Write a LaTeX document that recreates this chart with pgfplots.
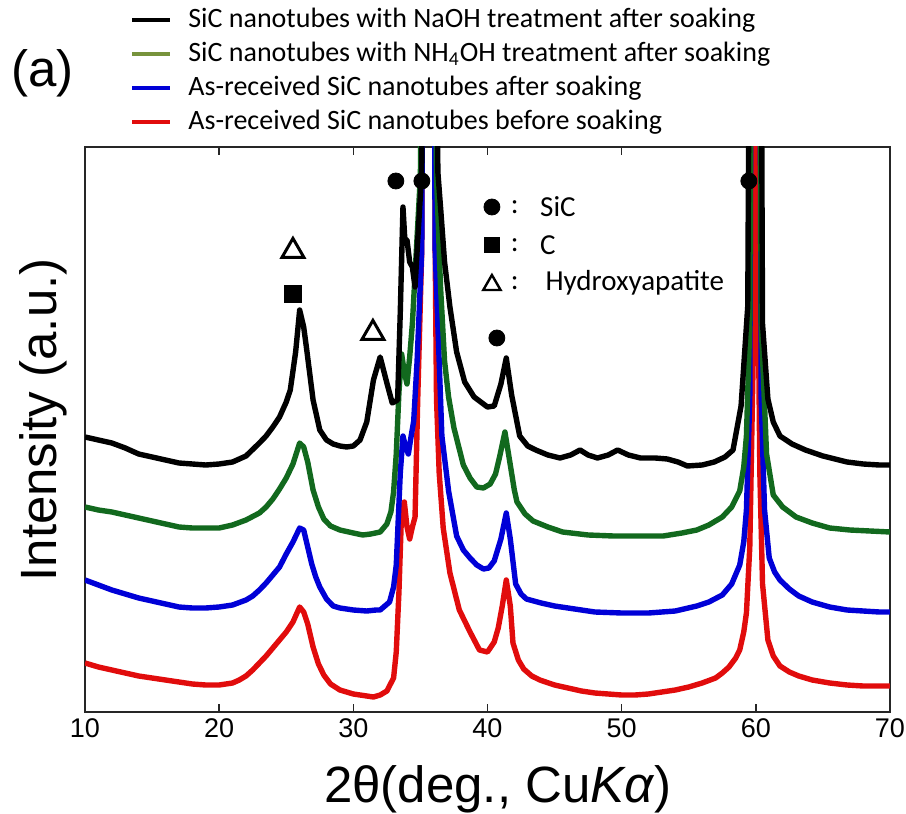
\documentclass[border=0pt]{standalone}
\usepackage{fontspec}
\setmainfont{Liberation Sans}
\newfontfamily\carlito{Carlito}
\usepackage{pgfplots}
\usepackage{pgfplotstable}
\pgfplotsset{compat=1.18}
\definecolor{cred}{RGB}{225,12,12}
\definecolor{cblue}{RGB}{0,0,215}
\definecolor{cgreen}{RGB}{18,105,30}
\definecolor{colive}{RGB}{119,147,60}

\pgfplotstableread{
x y
10.0 49
11.0 45
12.0 42
13.0 39
14.0 36
15.0 34
16.0 32
17.0 30
18.0 28
19.0 27
20.0 27
21.0 29
21.5 32
22.0 36
22.5 42
23.0 49
23.5 56
24.0 64
24.5 72
25.0 80
25.5 90
26.0 105
26.3 100
26.6 88
27.0 65
27.4 48
27.8 37
28.3 28
29.0 22
29.5 20
30.0 18
30.5 17
31.0 16
31.5 15
32.0 17
32.5 21
33.0 34
33.2 60
33.4 120
33.6 202
33.8 210
34.0 185
34.2 173
34.4 185
34.6 195
34.8 313
35.1 462
35.6 2000
36.1 462
36.2 313
36.4 239
36.7 184
37.2 139
37.9 102
38.7 80
39.4 62
40.0 60
40.5 70
40.8 84
41.1 106
41.4 132
41.7 106
41.9 69
42.3 52
42.7 43
43.3 36
43.9 32
45.0 27
46.0 24
47.0 21
48.0 19
49.0 18
50.0 17
51.0 17
52.0 18
53.0 20
54.0 22
55.0 25
56.0 29
57.0 34
57.5 39
58.0 45
58.5 54
58.8 62
59.1 80
59.3 99
59.55 165
59.8 351
60.0 2000
60.2 380
60.3 239
60.5 128
60.9 72
61.3 56
61.8 46
62.5 40
63.2 36
64.2 32
65.5 29
66.8 27
68.0 26
69.2 26
70.0 26
}\redtab

\pgfplotstableread{
x y
10.0 132
11.0 127
12.0 122
13.0 118
14.0 114
15.0 111
16.0 108
17.0 105
18.0 104
19.0 104
20.0 105
21.0 107
22.0 112
22.5 116
23.0 122
23.5 129
24.0 137
24.5 145
25.0 158
25.5 170
26.0 184
26.3 182
26.6 165
26.9 148
27.2 135
27.5 125
28.0 113
28.5 106
29.0 104
30.0 102
31.0 101
31.7 102
32.0 102
32.7 110
33.0 125
33.2 147
33.5 239
33.7 276
33.9 265
34.1 258
34.3 275
34.5 291
34.75 350
35.1 462
35.6 2000
36.1 462
36.35 369
36.6 276
37.1 221
37.7 176
38.2 162
38.7 154
39.2 147
39.7 143
40.1 144
40.5 151
41.0 173
41.4 199
41.7 173
42.1 128
42.5 118
42.9 113
44.0 109
45.0 106
46.5 103
48.0 100
50.0 99
52.0 99
54.0 101
55.6 106
56.5 110
57.5 117
58.2 128
58.8 147
59.1 170
59.3 202
59.55 313
60.0 2000
60.4 313
60.65 202
61.0 154
61.4 140
61.8 132
62.5 123
63.2 116
64.2 110
65.5 105
66.8 102
68.0 101
69.2 100
70.0 100
}\bluetab

\pgfplotstableread{
x y
10.0 205
11.0 202
12.0 200
13.0 197
14.0 194
15.0 191
16.0 188
17.0 185
18.0 184
19.0 184
20.0 184
21.0 187
22.0 192
23.0 199
23.5 205
24.0 213
24.5 223
25.0 234
25.5 248
26.0 269
26.3 265
26.6 250
27.0 222
27.4 205
27.8 193
28.3 186
29.0 182
30.0 179
30.7 177
31.3 178
32.0 180
32.5 188
32.8 200
33.0 220
33.2 258
33.4 320
33.6 358
33.8 340
34.0 328
34.2 355
34.4 388
34.7 462
35.0 536
35.6 2000
36.2 536
36.5 425
36.8 351
37.1 315
37.5 284
38.2 247
38.7 234
39.2 225
39.7 224
40.2 228
40.6 238
40.9 255
41.3 280
41.7 247
42.0 222
42.2 210
42.8 198
43.4 191
44.5 185
45.6 180
47.5 177
49.4 176
51.0 176
53.1 176
54.5 179
55.6 182
56.5 187
57.5 195
58.2 205
58.8 221
59.1 245
59.3 276
59.55 388
60.0 2000
60.4 388
60.8 258
61.3 217
62.0 205
63.0 195
64.2 189
65.5 184
67.0 182
68.5 181
70.0 180
}\greentab

\pgfplotstableread{
x y
10.0 275
11.0 272
12.0 269
13.0 264
14.0 258
15.0 255
16.0 252
17.0 249
18.0 248
19.0 247
20.0 248
21.0 250
22.0 256
23.0 269
23.5 276
24.0 285
24.5 295
25.0 310
25.3 322
25.7 360
26.0 402
26.3 385
26.5 365
27.0 312
27.5 282
28.0 272
28.5 268
29.0 266
29.5 265
30.0 266
30.5 272
31.0 290
31.5 332
32.0 355
32.5 329
32.9 309
33.3 312
33.5 400
33.7 505
33.85 470
34.0 472
34.2 450
34.4 445
34.6 425
34.8 472
35.1 539
35.6 2000
36.3 540
36.5 505
36.8 450
37.2 405
37.7 360
38.3 330
39.0 315
39.5 310
40.0 305
40.5 306
41.0 328
41.4 354
41.8 317
42.4 276
43.0 266
43.6 262
44.5 257
45.4 254
46.2 257
46.9 262
47.5 257
48.2 254
49.0 257
49.7 262
50.5 257
51.4 254
52.5 254
53.4 253
54.2 250
54.9 246
56.0 247
56.9 250
57.7 255
58.3 262
58.9 306
59.4 406
60.0 2000
60.5 388
60.9 313
61.3 290
61.8 276
62.7 268
63.7 262
65.0 256
66.8 250
68.0 248
69.2 247
70.0 247
}\blacktab

\begin{document}
\begin{tikzpicture}
\useasboundingbox (-42.5pt,-51pt) rectangle (410.5pt,356pt);
\begin{axis}[
  at={(0pt,0pt)}, anchor=south west,
  scale only axis, width=402.5pt, height=282.5pt,
  xmin=10, xmax=70, ymin=0, ymax=565,
  xtick={10,20,...,70}, ytick=\empty,
  tick align=inside, major tick length=4pt,
  axis line style={line width=1pt, black!85},
  every tick/.style={line width=0.8pt, black!85},
  tick label style={font=\fontsize{13.5}{15}\selectfont},
  /pgf/number format/assume math mode=true,
  xlabel={2θ(deg., Cu\textit{Kα})},
  xlabel style={font=\fontsize{25.5}{30}\selectfont, at={(axis description cs:0.513,0)}, anchor=base, yshift=-45pt},
  ylabel={Intensity (a.u.)},
  ylabel style={font=\fontsize{25.5}{30}\selectfont, at={(axis description cs:-0.0522,0.517)}, anchor=center},
  legend style={at={(axis description cs:0.0559,1.2478)}, anchor=north west, draw=none, fill=none,
    inner sep=0pt, row sep=4pt, column sep=8pt,
    font=\carlito\fontsize{14}{17}\selectfont,
    nodes={inner sep=0pt, text height=10pt, text depth=3pt}},
  legend cell align=left,
  legend image code/.code={\draw[line width=2pt] (0pt,0pt) -- (19pt,0pt);},
]
\addlegendimage{black}
\addlegendentry{SiC nanotubes with NaOH treatment after soaking}
\addlegendimage{colive}
\addlegendentry{SiC nanotubes with NH\textsubscript{4}OH treatment after soaking}
\addlegendimage{cblue}
\addlegendentry{As-received SiC nanotubes after soaking}
\addlegendimage{cred}
\addlegendentry{As-received SiC nanotubes before soaking}

\addplot[forget plot, cred, line width=2.7pt, line join=round] table[x=x,y=y] {\redtab};
\addplot[forget plot, cblue, line width=2.7pt, line join=round] table[x=x,y=y] {\bluetab};
\addplot[forget plot, cgreen, line width=2.7pt, line join=round] table[x=x,y=y] {\greentab};
\addplot[forget plot, black, line width=2.7pt, line join=round] table[x=x,y=y] {\blacktab};

% peak annotations
\addplot[forget plot, only marks, mark=*, mark size=4pt, black] coordinates {(33.17,531) (35.11,531) (40.70,374) (59.48,531)};
\addplot[forget plot, only marks, mark=triangle, mark size=6.3pt, black, mark options={line width=1.5pt}] coordinates {(25.50,461) (31.46,379)};
\addplot[forget plot, only marks, mark=square*, mark size=4.25pt, black] coordinates {(25.50,418)};
% symbol key
\addplot[forget plot, only marks, mark=*, mark size=4pt, black] coordinates {(40.33,505)};
\addplot[forget plot, only marks, mark=square*, mark size=3.75pt, black] coordinates {(40.33,467)};
\addplot[forget plot, only marks, mark=triangle, mark size=5pt, black, mark options={line width=1.2pt}] coordinates {(40.33,427)};
\node[font=\carlito\fontsize{14.5}{17}\selectfont, anchor=center] at (axis cs:42.04,505) {:};
\node[font=\carlito\fontsize{14.5}{17}\selectfont, anchor=center] at (axis cs:42.04,467) {:};
\node[font=\carlito\fontsize{14.5}{17}\selectfont, anchor=center] at (axis cs:42.04,429) {:};
\node[font=\carlito\fontsize{14.5}{17}\selectfont, anchor=west, inner sep=0pt] at (axis cs:43.9,505) {SiC};
\node[font=\carlito\fontsize{14.5}{17}\selectfont, anchor=west, inner sep=0pt] at (axis cs:43.9,467) {C};
\node[font=\carlito\fontsize{14.5}{17}\selectfont, anchor=west, inner sep=0pt] at (axis cs:44.3,429) {Hydroxyapatite};
\end{axis}
\node[font=\fontsize{25.5}{30}\selectfont, anchor=base west, inner sep=0pt] at (-37pt,312.5pt) {(a)};
\end{tikzpicture}
\end{document}
